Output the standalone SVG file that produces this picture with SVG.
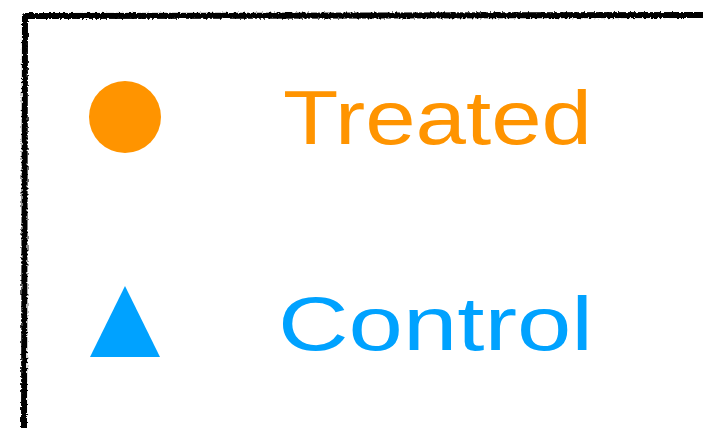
<svg xmlns="http://www.w3.org/2000/svg" width="703" height="428" viewBox="0 0 703 428">
  <style>
    .frame { fill: none; stroke: #000; stroke-width: 6; stroke-linejoin: round; stroke-linecap: round; }
    .label { font-family: "Liberation Sans", "DejaVu Sans", sans-serif; font-size: 76px; }
  </style>
  <defs>
    <filter id="rough" x="-5%" y="-5%" width="110%" height="110%">
      <feTurbulence type="fractalNoise" baseFrequency="0.5" numOctaves="2" seed="3" result="n"/>
      <feDisplacementMap in="SourceGraphic" in2="n" scale="4" xChannelSelector="R" yChannelSelector="G"/>
    </filter>
  </defs>
  <rect width="703" height="428" fill="#ffffff"/>
  <g id="frame">
    <path class="frame" filter="url(#rough)" d="M 24,432 L 25,16 L 707,15"/>
  </g>
  <g id="treated">
    <circle cx="125" cy="117" r="36" fill="#FF9400"/>
    <text class="label" x="283" y="144" fill="#FF9400" textLength="309" lengthAdjust="spacingAndGlyphs">Treated</text>
  </g>
  <g id="control">
    <polygon points="125,286 160,357 90,357" fill="#00A2FF"/>
    <text class="label" x="278" y="350" fill="#00A2FF" textLength="315" lengthAdjust="spacingAndGlyphs">Control</text>
  </g>
  <g id="connectors"/>
</svg>
